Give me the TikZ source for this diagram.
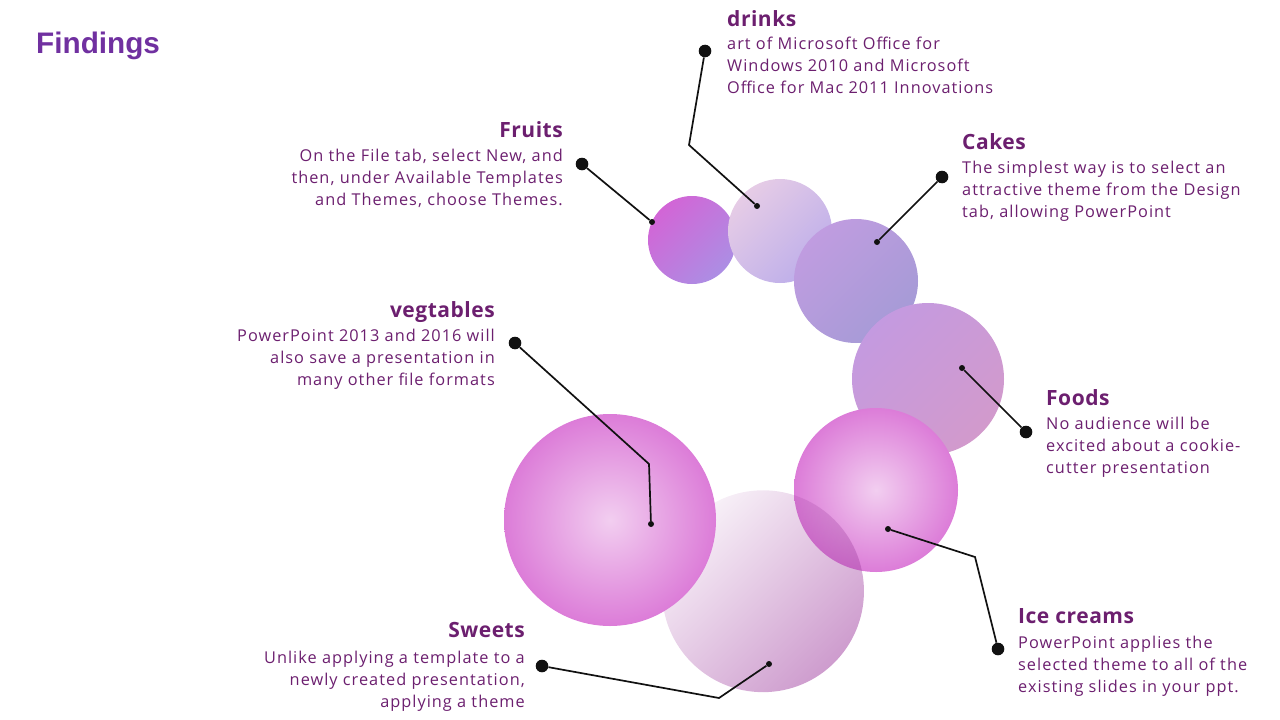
\documentclass[tikz,border=0pt]{standalone}
\usepackage{fontspec}
\setmainfont{Open Sans}
\newfontfamily\bodyfont[LetterSpace=6.3]{Open Sans}
\newfontfamily\headfont[LetterSpace=2.5]{Open Sans}
\newfontfamily\titlefont{Liberation Sans}
\usetikzlibrary{fadings}
\definecolor{txt}{HTML}{6C1F6F}
\definecolor{ttl}{HTML}{7030A0}
\definecolor{lnk}{HTML}{111111}
\definecolor{frA}{HTML}{D265D6}
\definecolor{frB}{HTML}{AC8EE4}
\definecolor{drA}{HTML}{E6CCE6}
\definecolor{drB}{HTML}{BDAEEA}
\definecolor{caA}{HTML}{C09CE0}
\definecolor{caB}{HTML}{A59BD6}
\definecolor{foA}{HTML}{C49AE0}
\definecolor{foB}{HTML}{D29ACC}
\definecolor{ballIn}{HTML}{F2CEF0}
\definecolor{ballOut}{HTML}{DC7CD8}
\definecolor{swP}{HTML}{A040A0}
\tikzfading[name=sweetfade, top color=transparent!93, bottom color=transparent!48]
\tikzset{
  head/.style={font=\headfont\fontsize{21}{24}\selectfont\bfseries, text=txt, inner sep=0pt},
  body/.style={font=\bodyfont\fontsize{16.3}{22}\selectfont, text=txt, inner sep=0pt},
  conn/.style={draw=lnk, line width=1.7pt},
  bigdot/.style={circle, fill=lnk, minimum size=12.6pt, inner sep=0pt},
  smalldot/.style={circle, fill=lnk, minimum size=6pt, inner sep=0pt},
  ball/.style={inner color=ballIn, outer color=ballOut},
}
\begin{document}
\begin{tikzpicture}[x=1pt,y=-1pt]
\useasboundingbox (0,0) rectangle (1280,720);
% circles
\shade[top color=frA, bottom color=frB, shading angle=45] (692,240) circle[radius=44pt];
\shade[top color=drA, bottom color=drB, shading angle=45] (780,231) circle[radius=52pt];
\shade[top color=caA, bottom color=caB, shading angle=45] (856,281) circle[radius=62pt];
\shade[top color=foA, bottom color=foB, shading angle=45] (928,379) circle[radius=76pt];
\shade[ball] (876,490) circle[radius=82pt];
\fill[swP, path fading=sweetfade, fading angle=45] (763,591) circle[radius=101pt];
\shade[ball] (610,520) circle[radius=106pt];
% title
\node[anchor=base west, font=\titlefont\fontsize{29.7}{32}\selectfont\bfseries, text=ttl, inner sep=0pt] (title) at (36,53) {Findings};
% texts
\node[head, anchor=base west] (drinksH) at (727,26) {drinks};
\node[body, anchor=north west, align=left] (drinksB) at (727,36.5) {art of Microsoft Office for\\Windows 2010 and Microsoft\\Office for Mac 2011 Innovations};
\node[head, anchor=base east] (fruitsH) at (563,137.5) {Fruits};
\node[body, anchor=north east, align=right] (fruitsB) at (563,149) {On the File tab, select New, and\\then, under Available Templates\\and Themes, choose Themes.};
\node[head, anchor=base west] (cakesH) at (962,149.5) {Cakes};
\node[body, anchor=north west, align=left] (cakesB) at (962,160.5) {The simplest way is to select an\\attractive theme from the Design\\tab, allowing PowerPoint};
\node[head, anchor=base east] (vegH) at (495,317) {vegtables};
\node[body, anchor=north east, align=right] (vegB) at (495,328.5) {PowerPoint 2013 and 2016 will\\also save a presentation in\\many other file formats};
\node[head, anchor=base west] (foodsH) at (1046,405.5) {Foods};
\node[body, anchor=north west, align=left] (foodsB) at (1046,416.5) {No audience will be\\excited about a cookie-\\cutter presentation};
\node[head, anchor=base west] (iceH) at (1018,623) {Ice creams};
\node[body, anchor=north west, align=left] (iceB) at (1018,635.5) {PowerPoint applies the\\selected theme to all of the\\existing slides in your ppt.};
\node[head, anchor=base east] (sweetsH) at (525,637.5) {Sweets};
\node[body, anchor=north east, align=right] (sweetsB) at (525,650.5) {Unlike applying a template to a\\newly created presentation,\\applying a theme};
% dots
\node[bigdot] (fruitsO) at (582,164) {};
\node[smalldot] (fruitsI) at (652,222) {};
\node[bigdot] (drinksO) at (705,51) {};
\coordinate (drinksE) at (689,145);
\node[smalldot] (drinksI) at (757,206) {};
\node[bigdot] (cakesO) at (942,177) {};
\node[smalldot] (cakesI) at (877,242) {};
\node[bigdot] (foodsO) at (1026,432) {};
\node[smalldot] (foodsI) at (962,368) {};
\node[bigdot] (iceO) at (998,649) {};
\coordinate (iceE) at (975,557);
\node[smalldot] (iceI) at (888,529) {};
\node[bigdot] (vegO) at (515,343) {};
\coordinate (vegE) at (649,464);
\node[smalldot] (vegI) at (651,524) {};
\node[bigdot] (sweetsO) at (542,666) {};
\coordinate (sweetsE) at (719,698);
\node[smalldot] (sweetsI) at (769,664) {};
% connectors
\draw[conn] (fruitsO) -- (fruitsI);
\draw[conn] (drinksO) -- (drinksE) -- (drinksI);
\draw[conn] (cakesO) -- (cakesI);
\draw[conn] (foodsO) -- (foodsI);
\draw[conn] (iceO) -- (iceE) -- (iceI);
\draw[conn] (vegO) -- (vegE) -- (vegI);
\draw[conn] (sweetsO) -- (sweetsE) -- (sweetsI);
\end{tikzpicture}
\end{document}
